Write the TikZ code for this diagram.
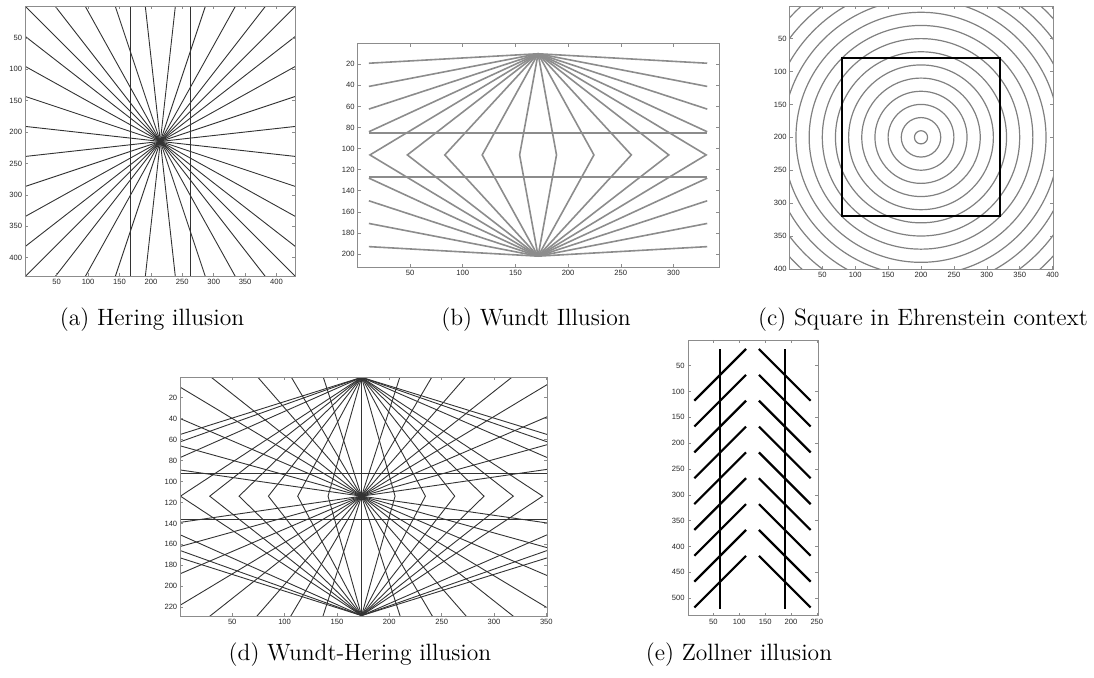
\documentclass[tikz,border=0pt]{standalone}
\usepackage{fontspec}
\newfontfamily\axisfont{Liberation Sans}
\usetikzlibrary{calc}

\tikzset{
  frame/.style={draw=black!45, line width=0.35pt},
  tickmark/.style={black!45, line width=0.3pt},
  xlab/.style={anchor=north, inner sep=1.4pt, text=black!85,
    font=\axisfont\fontsize{3.8}{4.5}\selectfont},
  ylab/.style={anchor=east, inner sep=1.4pt, text=black!85,
    font=\axisfont\fontsize{3.8}{4.5}\selectfont},
  caption/.style={anchor=base, font=\fontsize{11.8}{14}\selectfont},
  ray/.style={black!80, line width=0.45pt},
  wundt/.style={black!45, line width=0.8pt},
  ring/.style={black!50, line width=0.6pt},
  thickline/.style={black, line width=1.1pt}
}

\begin{document}
\begin{tikzpicture}[x=0.5pt,y=-0.5pt]
  \useasboundingbox (0,0) rectangle (1094,677);

  % (a) Hering illusion
  \begin{scope}[shift={(25.3,6.4)},scale=0.628]
    \foreach \t in {0,...,9}
      \draw[ray] ({\t*430/9},0) -- ({430-\t*430/9},430);
    \foreach \t in {1,...,8}
      \draw[ray] (0,{\t*430/9}) -- (430,{430-\t*430/9});
    \draw[ray] (167,0) -- (167,430);
    \draw[ray] (263,0) -- (263,430);
    \draw[frame] (0,0) rectangle (430,430);
    \foreach \v in {50,100,...,400} {
      \draw[tickmark] (\v,430) -- ++(0,-4.8);
      \draw[tickmark] (\v,0) -- ++(0,4.8);
      \draw[tickmark] (0,\v) -- ++(4.8,0);
      \draw[tickmark] (430,\v) -- ++(-4.8,0);
      \node[xlab] (ax\v) at (\v,430) {\v};
      \node[ylab] (ay\v) at (0,\v) {\v};
    }
  \end{scope}
  \node[caption] (capa) at (152,325) {(a) Hering illusion};

  % (b) Wundt illusion
  \begin{scope}[shift={(357.3,43.2)},scale=1.054]
    \coordinate (bT) at (171.5,10);
    \coordinate (bB) at (171.5,202);
    \foreach \y in {19,41,62.5,84} {
      \draw[wundt] (11,\y) -- (bT) -- (332,\y);
      \draw[wundt] (11,{212-\y}) -- (bB) -- (332,{212-\y});
    }
    \foreach \d in {17.5,53,88.5,124,159.5} {
      \draw[wundt] (bT) -- ({171.5-\d},106) -- (bB);
      \draw[wundt] (bT) -- ({171.5+\d},106) -- (bB);
    }
    \draw[wundt] (11,85) -- (332,85);
    \draw[wundt] (11,127) -- (332,127);
    \draw[frame] (0.5,0.5) rectangle (343.5,212.5);
    \foreach \v in {50,100,...,300} {
      \draw[tickmark] (\v,212.5) -- ++(0,-2.8);
      \draw[tickmark] (\v,0.5) -- ++(0,2.8);
      \node[xlab] (bx\v) at (\v,212.5) {\v};
    }
    \foreach \v in {20,40,...,200} {
      \draw[tickmark] (0.5,\v) -- ++(2.8,0);
      \draw[tickmark] (343.5,\v) -- ++(-2.8,0);
      \node[ylab] (by\v) at (0.5,\v) {\v};
    }
  \end{scope}
  \node[caption] (capb) at (536,325) {(b) Wundt Illusion};

  % (c) square on rings
  \begin{scope}[shift={(789.4,5.7)},scale=0.658]
    \begin{scope}
      \clip (0.5,0.5) rectangle (400.5,400.5);
      \foreach \r in {10,30,...,290}
        \draw[ring] (200,200) circle (\r);
    \end{scope}
    \draw[thickline] (80,80) rectangle (320,320);
    \draw[frame] (0.5,0.5) rectangle (400.5,400.5);
    \foreach \v in {50,100,...,400} {
      \draw[tickmark] (\v,400.5) -- ++(0,-4.6);
      \draw[tickmark] (\v,0.5) -- ++(0,4.6);
      \draw[tickmark] (0.5,\v) -- ++(4.6,0);
      \draw[tickmark] (400.5,\v) -- ++(-4.6,0);
      \node[xlab] (cx\v) at (\v,400.5) {\v};
      \node[ylab] (cy\v) at (0.5,\v) {\v};
    }
  \end{scope}
  \node[caption] (capc) at (923,325) {(c) Square in Ehrenstein context};

  % (d) Wundt-Hering illusion
  \begin{scope}[shift={(179.9,376.8)},scale=1.047]
    \coordinate (dT) at (173.5,0.5);
    \coordinate (dB) at (173.5,228);
    \begin{scope}
      \clip (0.5,0.5) rectangle (350.5,228.5);
      % rays through the centre
      \foreach \d in {-143.5,-99,-67,-36.5,36.5,67,99,143.5}
        \draw[ray] ({173.5+3*\d},{114-3*113.5}) -- ({173.5-3*\d},{114+3*113.5});
      \foreach \y in {10,40,66,89,139,162,188,218}
        \draw[ray] ({173.5-2*173},{114+2*(\y-114)}) -- ({173.5+2*173},{114-2*(\y-114)});
      % fans and zigzags
      \foreach \y in {55,62,77} {
        \draw[ray] (0.5,\y) -- (dT) -- (350.5,\y);
        \draw[ray] (0.5,{228-\y}) -- (dB) -- (350.5,{228-\y});
      }
      \foreach \d in {32,61,89,117,145,173} {
        \draw[ray] (dT) -- ({173.5-\d},114) -- (dB);
        \draw[ray] (dT) -- ({173.5+\d},114) -- (dB);
      }
      \draw[ray] (0.5,92) -- (350.5,92);
      \draw[ray] (0.5,136) -- (350.5,136);
      \draw[ray] (dT) -- (dB);
    \end{scope}
    \draw[frame] (0.5,0.5) rectangle (350.5,228.5);
    \foreach \v in {50,100,...,350} {
      \draw[tickmark] (\v,228.5) -- ++(0,-2.9);
      \draw[tickmark] (\v,0.5) -- ++(0,2.9);
      \node[xlab] (dx\v) at (\v,228.5) {\v};
    }
    \foreach \v in {20,40,...,220} {
      \draw[tickmark] (0.5,\v) -- ++(2.9,0);
      \draw[tickmark] (350.5,\v) -- ++(-2.9,0);
      \node[ylab] (dy\v) at (0.5,\v) {\v};
    }
  \end{scope}
  \node[caption] (capd) at (360,660) {(d) Wundt-Hering illusion};

  % (e) Zollner illusion
  \begin{scope}[shift={(687.6,339.7)},scale=0.517]
    \draw[thickline] (63,18) -- (63,520);
    \draw[thickline] (188,18) -- (188,520);
    \foreach \k in {0,...,8} {
      \draw[thickline] (13,{118+50*\k}) -- (113,{18+50*\k});
      \draw[thickline] (138,{18+50*\k}) -- (238,{118+50*\k});
    }
    \draw[frame] (0.5,0.5) rectangle (253,534);
    \foreach \v in {50,100,...,250} {
      \draw[tickmark] (\v,534) -- ++(0,-5.8);
      \draw[tickmark] (\v,0.5) -- ++(0,5.8);
      \node[xlab] (ex\v) at (\v,534) {\v};
    }
    \foreach \v in {50,100,...,500} {
      \draw[tickmark] (0.5,\v) -- ++(5.8,0);
      \draw[tickmark] (253,\v) -- ++(-5.8,0);
      \node[ylab] (ey\v) at (0.5,\v) {\v};
    }
  \end{scope}
  \node[caption] (cape) at (739,660) {(e) Zollner illusion};
\end{tikzpicture}
\end{document}
